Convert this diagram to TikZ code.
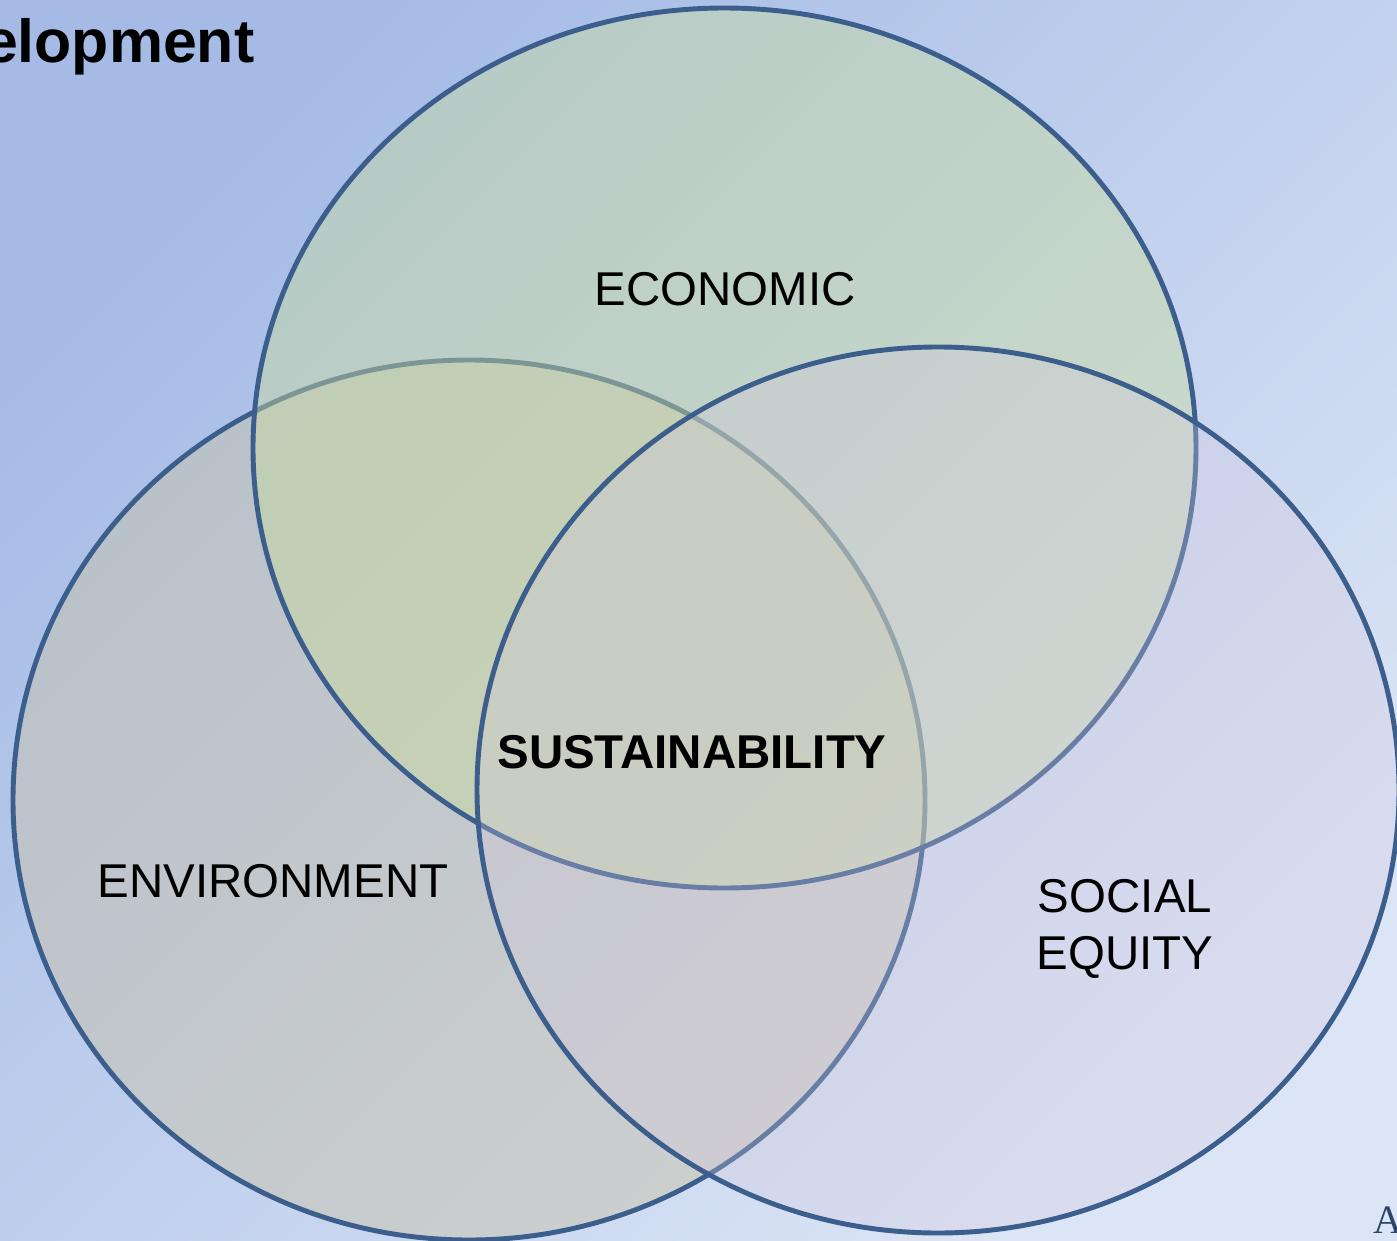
\documentclass[tikz,border=0pt]{standalone}
\usepackage{fontspec}
\setmainfont{Liberation Sans}
\newfontfamily\serifA{Liberation Serif}
\usepackage{tikz}

\definecolor{bgtop}{HTML}{A5BBE6}
\definecolor{bgbot}{HTML}{DCE5F5}
\definecolor{rim}{HTML}{3B5E8C}
\definecolor{envfill}{HTML}{C8C3AC}
\definecolor{ecofill}{HTML}{C9DC9E}
\definecolor{socfill}{HTML}{D4C8DE}

\begin{document}
\begin{tikzpicture}[
    ring/.style={draw=rim, line width=1.4pt},
    lbl/.style={font=\fontsize{13.5}{16.2}\selectfont, align=center, inner sep=0pt}
  ]
    % Background
    \useasboundingbox (0,0) rectangle (13.97,12.40);
    \shade[top color=bgtop, bottom color=bgbot, shading angle=45] (0,0) rectangle (13.97,12.40);

    % Title (cut off at the left)
    \node[anchor=base east, inner sep=0pt, font=\fontsize{17.3}{21}\selectfont\bfseries] (title) at (2.55,11.78) {elopment};

    % Three circles
    \draw[ring, fill=envfill, fill opacity=0.5] (4.69,4.40) ellipse (4.56 and 4.40);
    \draw[ring, fill=ecofill, fill opacity=0.45] (7.245,7.92) ellipse (4.715 and 4.40);
    \draw[ring, fill=socfill, fill opacity=0.3] (9.38,4.50) ellipse (4.61 and 4.43);

    % Labels
    \node[lbl] (eco) at (7.25,9.51) {ECONOMIC};
    \node[lbl] (env) at (2.73,3.59) {ENVIRONMENT};
    \node[lbl] (soc) at (11.25,3.11) {SOCIAL\\EQUITY};
    \node[lbl, font=\fontsize{13.5}{16.2}\selectfont\bfseries] (sust) at (6.92,4.88) {SUSTAINABILITY};

    % Corner mark
    \node[anchor=base west, inner sep=0pt, text=rim!75!black, font=\serifA\fontsize{11.5}{13}\selectfont] (corner) at (13.73,0.07) {A};
\end{tikzpicture}
\end{document}
